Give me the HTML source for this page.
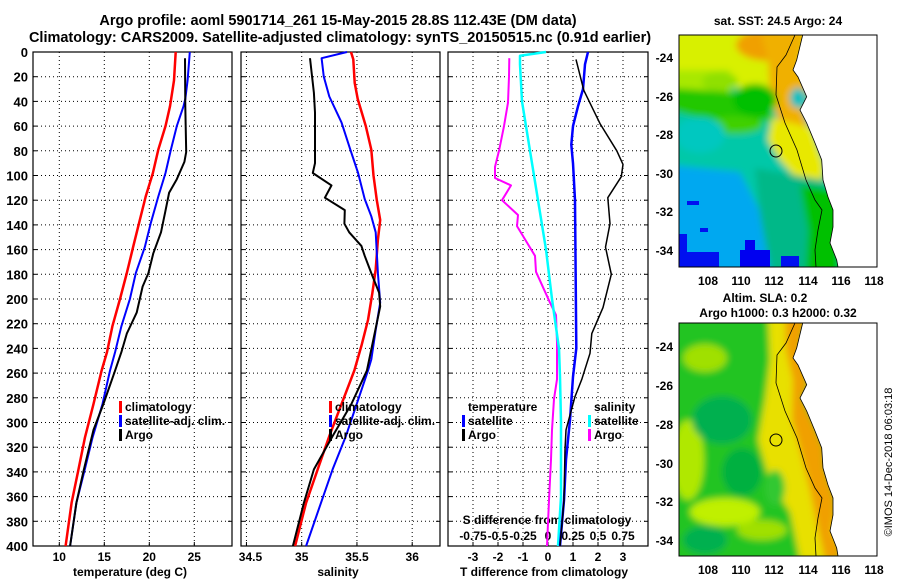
<!DOCTYPE html>
<html><head><meta charset="utf-8"><style>
html,body{margin:0;padding:0;background:#fff;}
svg{display:block;font-family:"Liberation Sans",sans-serif;font-weight:bold;}
</style></head><body>
<svg id="fig" width="900" height="580" viewBox="0 0 900 580" xmlns="http://www.w3.org/2000/svg">
<defs>
<filter id="bl" x="-10%" y="-10%" width="120%" height="120%"><feGaussianBlur stdDeviation="3.5"/></filter>
<clipPath id="ocTop"><path d="M679,35 L802.7,35 L796.7,60 L793,70 L798,77 L806.7,96.7 L800,110 L806.7,123 L815,143 L821.7,160 L823,180 L828,197 L833,210 L833,227 L830,243 L836.7,260 L838,267 L679,267 Z"/></clipPath>
<clipPath id="ocBot"><path d="M679,323 L802.7,323 L796.7,348 L793,358 L798,365 L806.7,384.7 L800,398 L806.7,411 L815,431 L821.7,448 L823,468 L828,485 L833,498 L833,515 L830,531 L836.7,548 L838,556 L679,556 Z"/></clipPath>
</defs>
<text x="338" y="25" font-size="14.5" text-anchor="middle">Argo profile: aoml 5901714_261 15-May-2015 28.8S 112.43E (DM data)</text>
<text x="340" y="42" font-size="14.5" text-anchor="middle">Climatology: CARS2009. Satellite-adjusted climatology: synTS_20150515.nc (0.91d earlier)</text>
<g id="charts"></g>

<!-- Top map -->
<g>
<text x="778" y="25" font-size="12" text-anchor="middle">sat. SST: 24.5 Argo: 24</text>
<g clip-path="url(#ocTop)">
<g filter="url(#bl)">
<rect x="670" y="30" width="180" height="245" fill="#00c8a8"/>
<rect x="670" y="30" width="140" height="58" fill="#d8f000"/>
<rect x="670" y="70" width="60" height="30" fill="#a8e800"/>
<ellipse cx="720" cy="82" rx="18" ry="10" fill="#90e000"/>
<ellipse cx="770" cy="45" rx="34" ry="16" fill="#f0a000"/>
<polygon points="760,30 806,30 800,60 808,97 802,110 812,135 790,140 778,120 770,95 768,60" fill="#f0b000"/>
<polygon points="772,118 812,128 824,165 822,188 800,182 780,160 768,140" fill="#e8e800"/>
<polygon points="670,88 730,92 760,85 772,95 772,120 740,125 700,118 670,110" fill="#20c800"/>
<ellipse cx="755" cy="100" rx="22" ry="16" fill="#00c000"/>
<ellipse cx="735" cy="125" rx="28" ry="9" fill="#40d000"/>
<ellipse cx="700" cy="135" rx="25" ry="18" fill="#00c8c0"/>
<polygon points="670,165 740,172 762,215 772,280 670,280" fill="#00a8f0"/>
<polygon points="755,168 822,180 834,210 840,280 772,280 760,215" fill="#00b888"/>
<polygon points="800,185 840,190 840,280 805,280 808,230" fill="#00c000"/>
<ellipse cx="798" cy="98" rx="8" ry="10" fill="#00c0c0"/>
</g>
<rect x="679" y="252" width="40" height="16" fill="#0010f0"/>
<rect x="679" y="234" width="8" height="18" fill="#0010f0"/>
<rect x="740" y="250" width="30" height="18" fill="#0000f0"/>
<rect x="745" y="240" width="10" height="10" fill="#0000f0"/>
<rect x="781" y="256" width="18" height="12" fill="#0010f0"/>
<rect x="687" y="201" width="12" height="4" fill="#0010f0"/>
<rect x="700" y="228" width="8" height="4" fill="#0010f0"/>
</g>
<path d="M802.7,35 L796.7,60 L793,70 L798,77 L806.7,96.7 L800,110 L806.7,123 L815,143 L821.7,160 L823,180 L828,197 L833,210 L833,227 L830,243 L836.7,260 L838,267" fill="none" stroke="#000" stroke-width="0.8"/>
<path d="M795,35 L786,55 L777,67 L776,95 L785,123 L797,150 L806,180 L815,200 L822,210 L818,230 L815,250 L816,267" fill="none" stroke="#000" stroke-width="0.8"/>
<circle cx="776" cy="151" r="6" fill="none" stroke="#000" stroke-width="1"/>
<rect x="679" y="35" width="198" height="232" fill="none" stroke="#000" stroke-width="1"/>
<g font-size="12" text-anchor="end">
<text x="673" y="62">-24</text><text x="673" y="101">-26</text><text x="673" y="139">-28</text><text x="673" y="178">-30</text><text x="673" y="216">-32</text><text x="673" y="255">-34</text>
</g>
<g font-size="12" text-anchor="middle">
<text x="708" y="285">108</text><text x="741" y="285">110</text><text x="774" y="285">112</text><text x="808" y="285">114</text><text x="841" y="285">116</text><text x="874" y="285">118</text>
</g>
</g>

<!-- Bottom map -->
<g>
<text x="765" y="302" font-size="12" text-anchor="middle">Altim. SLA: 0.2</text>
<text x="778" y="317" font-size="12" text-anchor="middle">Argo h1000: 0.3 h2000: 0.32</text>
<g clip-path="url(#ocBot)">
<g filter="url(#bl)">
<rect x="670" y="315" width="180" height="250" fill="#20c420"/>
<ellipse cx="705" cy="358" rx="22" ry="14" fill="#a0e000"/>
<ellipse cx="688" cy="460" rx="16" ry="40" fill="#b0e800"/>
<ellipse cx="725" cy="512" rx="35" ry="14" fill="#c0f000"/>
<ellipse cx="762" cy="530" rx="25" ry="10" fill="#a0e000"/>
<ellipse cx="722" cy="420" rx="30" ry="24" fill="#00b050"/>
<ellipse cx="742" cy="472" rx="20" ry="24" fill="#00b040"/>
<ellipse cx="705" cy="540" rx="22" ry="14" fill="#00b050"/>
<polygon points="768,315 806,315 800,350 808,385 802,398 817,431 825,470 835,500 840,560 800,560 790,512 770,482 758,440 765,400 770,360" fill="#e8e000"/>
<ellipse cx="775" cy="488" rx="10" ry="18" fill="#30c830"/>
<polygon points="785,315 806,315 800,348 808,385 802,398 817,431 824,448 825,468 835,498 835,515 832,531 840,548 840,560 825,560 816,520 810,490 800,450 792,420 793,380 786,350" fill="#f0a000"/>
</g>
</g>
<path d="M802.7,323 L796.7,348 L793,358 L798,365 L806.7,384.7 L800,398 L806.7,411 L815,431 L821.7,448 L823,468 L828,485 L833,498 L833,515 L830,531 L836.7,548 L838,556" fill="none" stroke="#000" stroke-width="0.8"/>
<path d="M795,323 L786,343 L777,355 L776,383 L785,411 L797,438 L806,468 L815,488 L822,498 L818,518 L815,538 L816,556" fill="none" stroke="#000" stroke-width="0.8"/>
<circle cx="776" cy="440" r="6" fill="none" stroke="#000" stroke-width="1"/>
<rect x="679" y="323" width="198" height="233" fill="none" stroke="#000" stroke-width="1"/>
<g font-size="12" text-anchor="end">
<text x="673" y="351">-24</text><text x="673" y="390">-26</text><text x="673" y="429">-28</text><text x="673" y="468">-30</text><text x="673" y="506">-32</text><text x="673" y="545">-34</text>
</g>
<g font-size="12" text-anchor="middle">
<text x="708" y="574">108</text><text x="741" y="574">110</text><text x="774" y="574">112</text><text x="808" y="574">114</text><text x="841" y="574">116</text><text x="874" y="574">118</text>
</g>
</g>
<text transform="translate(892,462) rotate(-90)" font-size="11" font-weight="normal" text-anchor="middle">©IMOS 14-Dec-2018 06:03:18</text>
</svg>
<script>
// Panel 1: temperature (deg C)
const redTDepth=[0,23,44,60,79,98,117,139,158,179,200,222,243,258,285,312,339,365,400];
const redTVal=[22.93,22.74,22.3,21.8,21.0,20.4,19.6,18.85,18.2,17.5,16.75,15.9,15.3,14.7,13.8,12.86,12.1,11.37,10.7];
const blueTDepth=[0,23,38,44,60,79,98,117,139,158,179,200,222,243,258,285,312,339,365,400];
const blueTVal=[24.5,24.26,24.0,23.8,23.05,22.4,21.8,21.0,20.15,19.5,18.5,17.85,16.9,16.2,15.63,14.8,13.7,12.8,11.9,11.2];
const argoTDepth=[5,44,81,89,103,114,130,146,163,179,190,211,228,243,258,285,306,339,365,400];
const argoTVal=[23.97,24.0,24.1,23.9,23.05,22.2,21.75,21.3,20.45,19.9,19.25,18.6,17.5,16.9,16.2,14.9,13.8,12.7,11.9,11.2];
// Panel 2: salinity
const redSDepth=[0,6,25,38,60,79,100,120,136,152,176,195,217,238,258,311,338,365,400];
const redSVal=[35.446,35.467,35.48,35.507,35.58,35.63,35.65,35.68,35.71,35.69,35.67,35.64,35.60,35.54,35.476,35.25,35.145,35.04,34.94];
const blueSDepth=[0,5,20,36,57,79,98,119,133,146,179,203,225,249,258,311,338,365,400];
const blueSVal=[35.41,35.18,35.2,35.25,35.36,35.44,35.51,35.57,35.63,35.67,35.69,35.71,35.67,35.63,35.6,35.4,35.28,35.175,35.04];
const argoSDepth=[5,33,49,90,98,108,118,128,139,146,157,165,179,195,206,228,258,285,311,338,365,400];
const argoSVal=[35.075,35.11,35.12,35.12,35.1,35.27,35.21,35.39,35.386,35.43,35.54,35.57,35.63,35.70,35.71,35.66,35.59,35.45,35.28,35.11,35.02,34.92];
// Panel 3: differences from climatology
const dTArgoDepth=[6,31,58,80,91,101,118,139,158,180,207,228,244,265,279,306,322,363,400];
const dTArgoVal=[1.12,1.43,2.08,2.75,3.0,2.93,2.39,2.48,2.3,2.53,2.2,1.75,1.68,1.35,1.08,0.72,0.68,0.64,0.48];
const dTSatDepth=[0,10,30,44,60,75,90,120,240,263,298,330,363,400];
const dTSatVal=[1.6,1.48,1.4,1.2,1.0,0.93,1.0,1.08,1.13,1.0,0.88,0.72,0.64,0.48];
const dSArgoDepth=[5,20,41,60,80,93,102,108,120,132,141,165,178,203,213,235,265,281,306,330,363,400];
const dSArgoVal=[-0.387,-0.39,-0.40,-0.44,-0.49,-0.53,-0.53,-0.37,-0.46,-0.30,-0.31,-0.13,-0.12,0.02,0.08,0.09,0.09,0.06,0.04,0.03,0.01,-0.01];
const dSSatDepth=[0,3,10,40,80,120,160,200,240,263,300,360,400];
const dSSatVal=[-0.02,-0.28,-0.28,-0.26,-0.18,-0.10,-0.02,0.04,0.11,0.12,0.13,0.13,0.10];
// tick labels
const depthTicks=[0,20,40,60,80,100,120,140,160,180,200,220,240,260,280,300,320,340,360,380,400];
const tempTicks=[10,15,20,25];
const salTicks=[34.5,35,35.5,36];
const dTTicks=[-3,-2,-1,0,1,2,3];
const dSTickLabels=["-0.75","-0.5","-0.25","0","0.25","0.5","0.75"];

const NS="http://www.w3.org/2000/svg";
const g=document.getElementById('charts');
const yD=d=>52+d*1.235;
const xT=t=>59.3+(t-10)*9;
const xS=s=>301.7+(s-35)*110.5;
const xdT=t=>548+25*t;
const xdS=s=>548+100*s;
function mk(tag,attrs,parent){const e=document.createElementNS(NS,tag);for(const k in attrs)e.setAttribute(k,attrs[k]);(parent||g).appendChild(e);return e;}
function line(depths,vals,xf,color,w,name){
  let d='';depths.forEach((dp,i)=>{d+=(i?'L':'M')+xf(vals[i]).toFixed(1)+','+yD(dp).toFixed(1);});
  const p=mk('path',{d:d,fill:'none',stroke:color,'stroke-width':w,'stroke-linejoin':'round'});
  
  
}
function panel(x0,x1,gridX,name){
  depthTicks.forEach(dp=>{
    if(dp>0&&dp<400){const l=mk('line',{x1:x0,x2:x1,y1:yD(dp),y2:yD(dp),stroke:'#000','stroke-width':1,'stroke-dasharray':'1,3'});
    
    }
    mk('line',{x1:x0,x2:x0+4,y1:yD(dp),y2:yD(dp),stroke:'#000'});
    mk('line',{x1:x1-4,x2:x1,y1:yD(dp),y2:yD(dp),stroke:'#000'});
  });
  gridX.forEach(x=>{
    const l=mk('line',{x1:x,x2:x,y1:52,y2:546,stroke:'#000','stroke-width':1,'stroke-dasharray':'1,3'});
    
    
    mk('line',{x1:x,x2:x,y1:546,y2:542,stroke:'#000'});
  });
  const r=mk('rect',{x:x0,y:52,width:x1-x0,height:494,fill:'none',stroke:'#000','stroke-width':1.2});
  
  
}
function txt(x,y,s,anchor,size,name,color){
  const t=mk('text',{x:x,y:y,'text-anchor':anchor||'middle','font-size':size||12});
  if(color)t.setAttribute('fill',color);
  t.textContent=s;
  
  
  return t;
}
panel(33,232,tempTicks.map(xT),'temperature-panel');
panel(241,440,salTicks.map(xS),'salinity-panel');
panel(448,648,dTTicks.filter(t=>t!==0).map(xdT).concat([xdT(0)]),'difference-panel');
depthTicks.forEach(dp=>txt(28,yD(dp)+5,String(dp),'end',13,'depth-tick-label'));
tempTicks.forEach(t=>txt(xT(t),561,String(t),'middle',12,'temperature-tick-label'));
salTicks.forEach(s=>txt(xS(s)+(s===34.5?4:0),561,String(s),'middle',12,'salinity-tick-label'));
dTTicks.forEach(t=>txt(xdT(t),561,String(t),'middle',12,'t-diff-tick-label'));
dSTickLabels.forEach((s,i)=>txt(xdT(dTTicks[i]),540,s,'middle',12,'s-diff-tick-label'));
txt(130,576,'temperature (deg C)','middle',12,'temperature-axis-title');
txt(338,576,'salinity','middle',12,'salinity-axis-title');
txt(544,576,'T difference from climatology','middle',12,'t-diff-axis-title');
txt(547,524,'S difference from climatology','middle',12,'s-diff-axis-title');
line(redTDepth,redTVal,xT,'#ff0000',2.5,'temp-climatology-line');
line(blueTDepth,blueTVal,xT,'#0000ff',2,'temp-satellite-line');
line(argoTDepth,argoTVal,xT,'#000000',2,'temp-argo-line');
line(redSDepth,redSVal,xS,'#ff0000',2.5,'sal-climatology-line');
line(blueSDepth,blueSVal,xS,'#0000ff',2,'sal-satellite-line');
line(argoSDepth,argoSVal,xS,'#000000',2,'sal-argo-line');
line(dSArgoDepth,dSArgoVal,xdS,'#ff00ff',2,'s-diff-argo-line');
line(dSSatDepth,dSSatVal,xdS,'#00ffff',2.5,'s-diff-satellite-line');
line(dTSatDepth,dTSatVal,xdT,'#0000ff',2.5,'t-diff-satellite-line');
line(dTArgoDepth,dTArgoVal,xdT,'#000000',1.5,'t-diff-argo-line');
function leg(x,y,color,s,name){
  const m=mk('rect',{x:x-6,y:y-10,width:3,height:12,fill:color});
  
  
  txt(x,y,s,'start',12,name);
}
leg(125,411,'#ff0000','climatology','temp-legend-climatology');
leg(125,425,'#0000ff','satellite-adj. clim.','temp-legend-satellite');
leg(125,439,'#000000','Argo','temp-legend-argo');
leg(335,411,'#ff0000','climatology','sal-legend-climatology');
leg(335,425,'#0000ff','satellite-adj. clim.','sal-legend-satellite');
leg(335,439,'#000000','Argo','sal-legend-argo');
txt(468,411,'temperature','start',12,'diff-legend-temperature-heading');
leg(468,425,'#0000ff','satellite','diff-legend-t-satellite');
leg(468,439,'#000000','Argo','diff-legend-t-argo');
txt(594,411,'salinity','start',12,'diff-legend-salinity-heading');
leg(594,425,'#00ffff','satellite','diff-legend-s-satellite');
leg(594,439,'#ff00ff','Argo','diff-legend-s-argo');
</script>
</body></html>
